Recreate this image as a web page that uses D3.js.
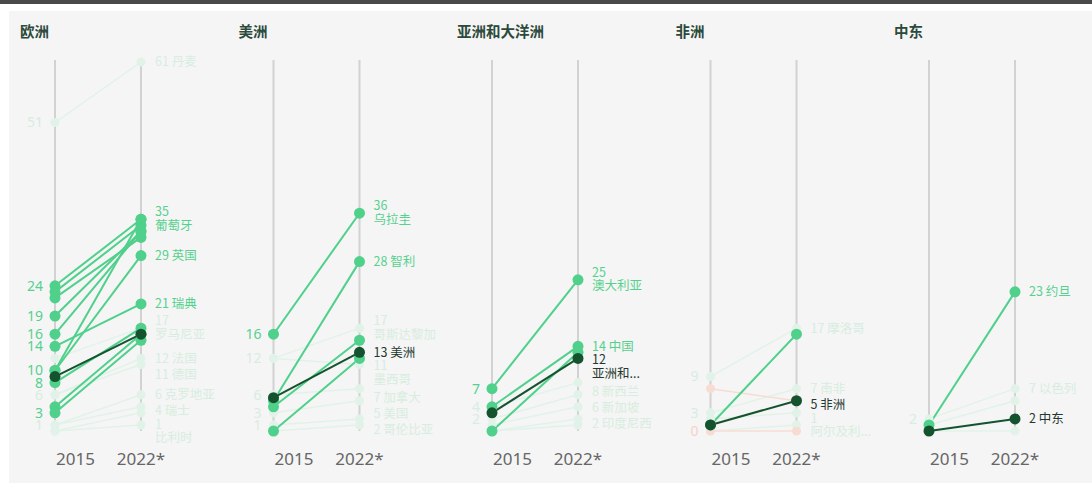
<!DOCTYPE html>
<html>
<head>
<meta charset="utf-8">
<script src="https://cdn.jsdelivr.net/npm/d3@7"></script>
<style>
  body { margin: 0; background: #fff; font-family: "Noto Sans CJK SC", "Noto Sans", sans-serif; }
</style>
</head>
<body>
<div id="container"></div>
<script>
const w = 1092;
const h = 490;

const regions = ["欧洲", "美洲", "亚洲和大洋洲", "非洲", "中东"];
const years = ["2015", "2022*"];

// 欧洲
const euFrom   = [51, 12, 6, 6, 1, 1, 0, 0, 24, 23, 22, 19, 16, 10, 10, 14, 8, 4, 3, 9];
const euTo     = [61, 17, 12, 11, 6, 4, 1, 3, 35, 34, 32, 33, 33, 35, 29, 21, 17, 16, 15, 16];
const euStatus = ["dim","dim","dim","dim","dim","dim","dim","dim","hi","hi","hi","hi","hi","hi","hi","hi","hi","hi","hi","avg"];
const euLabels = ["61 丹麦","17|罗马尼亚","12 法国","11 德国","6 克罗地亚","4 瑞士","1|比利时","","35|葡萄牙","","","","","","29 英国","21 瑞典","","","",""];
const euTicks   = [51, 24, 19, 16, 14, 10, 8, 6, 3, 1];
const euTicksHi = [24, 19, 16, 14, 10, 8, 3];

// 美洲
const amFrom   = [12, 12, 6, 3, 1, 0, 16, 5, 4, 0, 5.5];
const amTo     = [17, 11, 7, 5, 2, 1, 36, 28, 15, 12, 13];
const amStatus = ["dim","dim","dim","dim","dim","dim","hi","hi","hi","hi","avg"];
const amLabels = ["17|哥斯达黎加","11|墨西哥","7 加拿大","5 美国","2 哥伦比亚","","36|乌拉圭","28 智利","","","13 美洲"];
const amTicks   = [16, 12, 6, 3, 1];
const amTicksHi = [16];

// 亚洲和大洋洲
const apFrom   = [4, 2, 1, 0, 0, 7, 4, 0, 3];
const apTo     = [8, 6, 4, 2, 1, 25, 14, 13, 12];
const apStatus = ["dim","dim","dim","dim","dim","hi","hi","hi","avg"];
const apLabels = ["8 新西兰","6 新加坡","","2 印度尼西","","25|澳大利亚","14 中国","","12|亚洲和..."];
const apTicks   = [7, 4, 2];
const apTicksHi = [7];

// 非洲
const afFrom   = [9, 3, 2, 0, 7, 0, 1, 1];
const afTo     = [17, 7, 3, 1, 5, 0, 16, 5];
const afStatus = ["dim","dim","dim","dim","neg","neg","hi","avg"];
const afLabels = ["17 摩洛哥","7 南非","","1|阿尔及利...","","","","5 非洲"];
const afTicks   = [9, 3, 0];
const afTicksHi = [];

// 中东
const meFrom   = [2, 1, 0, 1, 0];
const meTo     = [7, 5, 0, 23, 2];
const meStatus = ["dim","dim","dim","hi","avg"];
const meLabels = ["7 以色列","","","23 约旦","2 中东"];
const meTicks   = [2];
const meTicksHi = [];

const panels = [
  { from: euFrom, to: euTo, status: euStatus, labels: euLabels, ticks: euTicks, ticksHi: euTicksHi },
  { from: amFrom, to: amTo, status: amStatus, labels: amLabels, ticks: amTicks, ticksHi: amTicksHi },
  { from: apFrom, to: apTo, status: apStatus, labels: apLabels, ticks: apTicks, ticksHi: apTicksHi },
  { from: afFrom, to: afTo, status: afStatus, labels: afLabels, ticks: afTicks, ticksHi: afTicksHi },
  { from: meFrom, to: meTo, status: meStatus, labels: meLabels, ticks: meTicks, ticksHi: meTicksHi }
];

const colors = { hi: "#4fd08b", avg: "#15532f", dim: "#e1f3e8", neg: "#f7dcd3" };
const labelColors = { hi: "#55d18f", avg: "#23392f", dim: "#d7ede0", neg: "#f5d3c8" };
const order = { dim: 0, neg: 1, hi: 2, avg: 3 };

const yScale = d3.scaleLinear().domain([0, 61]).range([431, 62]);
const panelX = d3.scaleLinear().domain([0, 4]).range([55, 929]);

let viz = d3.select("#container").append("svg").attr("width", w).attr("height", h);

// frame
viz.append("rect").attr("x", 0).attr("y", 0).attr("width", w).attr("height", 4).attr("fill", "#4a4a4a");
viz.append("rect").attr("x", 9).attr("y", 11).attr("width", w - 9).attr("height", 472).attr("fill", "#f5f5f5");

panels.forEach(function(p, i){
    let x0 = panelX(i);
    let xScale = d3.scalePoint().domain(years).range([x0, x0 + 86]);
    let g = viz.append("g");

    g.append("text")
        .attr("x", x0 - 35).attr("y", 37)
        .attr("font-size", 14.5).attr("font-weight", 700)
        .attr("fill", "#2c4a3c")
        .text(regions[i]);

    // vertical axes
    g.selectAll(".axis").data(years).enter().append("line")
        .attr("x1", d => xScale(d)).attr("x2", d => xScale(d))
        .attr("y1", 60).attr("y2", yScale(0))
        .attr("stroke", "#d2d2d2").attr("stroke-width", 2);

    // year labels
    g.append("text").attr("x", xScale(years[0]) + 1).attr("y", 465)
        .attr("font-size", 17).attr("fill", "#666").attr("font-family", "Noto Sans")
        .text(years[0]);
    g.append("text").attr("x", xScale(years[1])).attr("y", 465)
        .attr("text-anchor", "middle")
        .attr("font-size", 17).attr("fill", "#666").attr("font-family", "Noto Sans")
        .text(years[1]);

    let rows = p.from.map(function(v, k){
        return { a: v, b: p.to[k], s: p.status[k], label: p.labels[k] };
    });
    rows.sort((r1, r2) => order[r1.s] - order[r2.s]);

    g.selectAll(".link").data(rows).enter().append("line")
        .attr("x1", xScale(years[0])).attr("y1", d => yScale(d.a))
        .attr("x2", xScale(years[1])).attr("y2", d => yScale(d.b))
        .attr("stroke", d => colors[d.s])
        .attr("stroke-width", d => (d.s == "dim" || d.s == "neg") ? 1.5 : 2);

    let dotR = d => (d.s == "dim" || d.s == "neg") ? 4.5 : 5.5;
    rows.forEach(function(d){
        g.append("circle").attr("cx", xScale(years[0])).attr("cy", yScale(d.a))
            .attr("r", dotR(d)).attr("fill", colors[d.s]);
        g.append("circle").attr("cx", xScale(years[1])).attr("cy", yScale(d.b))
            .attr("r", dotR(d)).attr("fill", colors[d.s]);
    });

    // right labels, pushed apart so they do not collide
    let labelled = rows.filter(d => d.label != "").map(function(d){
        let parts = d.label.split("|");
        return { d: d, parts: parts, y: yScale(d.b),
                 up: parts.length == 1 ? 8 : 13, down: parts.length == 1 ? 8 : 16 };
    });
    labelled.sort((l1, l2) => l1.y - l2.y);
    for (let k = 1; k < labelled.length; k++) {
        let prev = labelled[k - 1], cur = labelled[k];
        let minY = prev.y + prev.down + cur.up;
        if (cur.y < minY) cur.y = minY;
    }
    labelled.forEach(function(l){
        let lx = xScale(years[1]) + 14;
        let t = g.append("text")
            .attr("x", lx).attr("y", l.y)
            .attr("font-size", 12.5)
            .attr("fill", labelColors[l.d.s]);
        if (l.parts.length == 1) {
            t.attr("dy", "0.35em").text(l.parts[0]);
        } else {
            t.append("tspan").attr("x", lx).attr("dy", "-0.25em").text(l.parts[0]);
            t.append("tspan").attr("x", lx).attr("dy", "1.1em").text(l.parts[1]);
        }
    });

    // left value labels
    g.selectAll(".tick").data(p.ticks).enter().append("text")
        .attr("x", xScale(years[0]) - 12)
        .attr("y", d => yScale(d))
        .attr("dy", "0.35em")
        .attr("text-anchor", "end")
        .attr("font-size", 14).attr("font-family", "Noto Sans")
        .attr("fill", function(d){
            if (p.ticksHi.indexOf(d) >= 0) return labelColors.hi;
            if (i == 3 && d == 0) return labelColors.neg;
            return labelColors.dim;
        })
        .text(d => d);
});
</script>
</body>
</html>
